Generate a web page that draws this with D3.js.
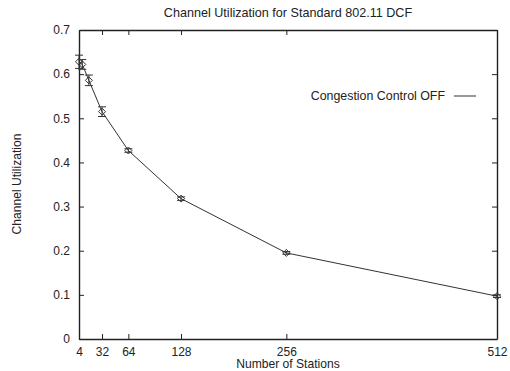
<!DOCTYPE html>
<html>
<head>
<meta charset="utf-8">
<script src="https://cdn.jsdelivr.net/npm/d3@7"></script>
<style>
body { margin: 0; background: #fff; }
text { font-family: "Liberation Sans", Arial, sans-serif; fill: #222; }
</style>
</head>
<body>
<div id="chart"></div>
<script>
// data
var stations = [4, 8, 16, 32, 64, 128, 256, 512]
var utilization = [0.628, 0.622, 0.586, 0.515, 0.427, 0.318, 0.195, 0.097]
var errors = [0.015, 0.011, 0.012, 0.011, 0.004, 0.004, 0.003, 0.003]
var xTicks = [4, 32, 64, 128, 256, 512]
var yTicks = [0, 0.1, 0.2, 0.3, 0.4, 0.5, 0.6, 0.7]

var width = 510
var height = 371
var margin = {left: 79, right: 13, top: 30, bottom: 32}

var svg = d3.select("#chart").append("svg")
    .attr("width", width)
    .attr("height", height)

var x = d3.scaleLinear()
    .domain([4, 512])
    .range([margin.left, width - margin.right])

var y = d3.scaleLinear()
    .domain([0, 0.7])
    .range([height - margin.bottom, margin.top])

var fmtY = function(d) { return d == 0 ? "0" : d3.format(".1f")(d) }

// axes, ticks drawn inward on all four sides
svg.append("g")
    .attr("transform", "translate(0," + y(0) + ")")
    .call(d3.axisBottom(x).tickValues(xTicks).tickSizeInner(-5).tickSizeOuter(0).tickPadding(8))
svg.append("g")
    .attr("transform", "translate(0," + y(0.7) + ")")
    .call(d3.axisTop(x).tickValues(xTicks).tickSizeInner(-5).tickSizeOuter(0).tickFormat(""))
svg.append("g")
    .attr("transform", "translate(" + x(4) + ",0)")
    .call(d3.axisLeft(y).tickValues(yTicks).tickFormat(fmtY).tickSizeInner(-5).tickSizeOuter(0).tickPadding(9))
svg.append("g")
    .attr("transform", "translate(" + x(512) + ",0)")
    .call(d3.axisRight(y).tickValues(yTicks).tickSizeInner(-5).tickSizeOuter(0).tickFormat(""))

svg.selectAll(".domain").attr("stroke", "#222").attr("stroke-width", 1.4)
svg.selectAll(".tick line").attr("stroke", "#222")
svg.selectAll(".tick text").attr("font-size", 12).attr("fill", "#222")
    .attr("font-family", "'Liberation Sans', Arial, sans-serif")

// titles
svg.append("text")
    .attr("x", 288).attr("y", 17)
    .attr("text-anchor", "middle")
    .attr("font-size", 12.6)
    .text("Channel Utilization for Standard 802.11 DCF")

svg.append("text")
    .attr("x", 288).attr("y", 368)
    .attr("text-anchor", "middle")
    .attr("font-size", 12.1)
    .text("Number of Stations")

svg.append("text")
    .attr("transform", "translate(21,184) rotate(-90)")
    .attr("text-anchor", "middle")
    .attr("font-size", 12.1)
    .text("Channel Utilization")

// data line
var line = d3.line()
    .x(function(d, i) { return x(stations[i]) })
    .y(function(d) { return y(d) })

svg.append("path")
    .datum(utilization)
    .attr("fill", "none")
    .attr("stroke", "#333")
    .attr("stroke-width", 1)
    .attr("d", line)

// error bars
var bars = svg.append("g").attr("stroke", "#333").attr("stroke-width", 1)
utilization.forEach(function(v, i) {
    var cx = x(stations[i])
    var y1 = y(v + errors[i]), y2 = y(v - errors[i])
    bars.append("line").attr("x1", cx).attr("x2", cx).attr("y1", y1).attr("y2", y2)
    bars.append("line").attr("x1", cx - 4).attr("x2", cx + 4).attr("y1", y1).attr("y2", y1)
    bars.append("line").attr("x1", cx - 4).attr("x2", cx + 4).attr("y1", y2).attr("y2", y2)
})

// diamond markers
svg.append("g").selectAll("path")
    .data(utilization)
    .join("path")
    .attr("transform", function(d, i) { return "translate(" + x(stations[i]) + "," + y(d) + ")" })
    .attr("d", "M0,-3.5L3.5,0L0,3.5L-3.5,0Z")
    .attr("fill", "none")
    .attr("stroke", "#333")
    .attr("stroke-width", 1)

// legend
svg.append("text")
    .attr("x", 445).attr("y", 100)
    .attr("text-anchor", "end")
    .attr("font-size", 12.4)
    .text("Congestion Control OFF")
svg.append("line")
    .attr("x1", 454).attr("x2", 476)
    .attr("y1", 96).attr("y2", 96)
    .attr("stroke", "#333")
</script>
</body>
</html>
